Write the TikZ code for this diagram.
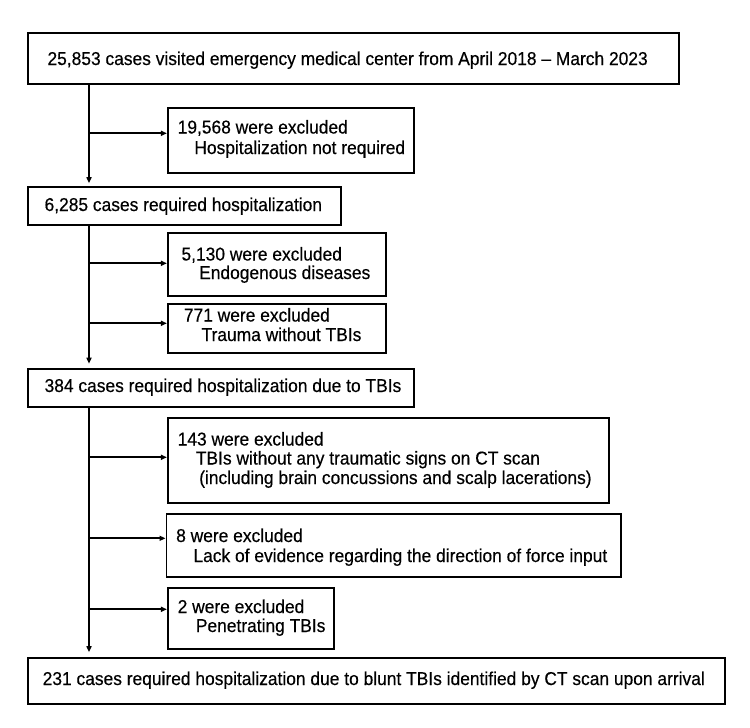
\documentclass[tikz,border=0pt]{standalone}
\usepackage{fontspec}
\setmainfont[FakeStretch=0.935,FakeBold=0.4]{Liberation Sans}
\usetikzlibrary{arrows.meta}
\tikzset{
  box/.style={draw, line width=1.9pt, rectangle, inner sep=0pt, anchor=north west},
  txt/.style={anchor=base west, inner sep=0pt, font=\fontsize{18.6pt}{20pt}\selectfont},
  flow/.style={line width=1.9pt, -{Triangle[length=6pt,width=5pt]}},
}
\begin{document}
\begin{tikzpicture}[x=1pt,y=-1pt]
\useasboundingbox (0,0) rectangle (750,728);
% boxes
\node[box, minimum width=651pt, minimum height=51.6pt] (b1) at (26.7,31.7) {};
\node[box, minimum width=246.1pt, minimum height=65pt] (e1) at (166.9,106.7) {};
\node[box, minimum width=313.5pt, minimum height=38.3pt] (b2) at (26.7,185.7) {};
\node[box, minimum width=217.9pt, minimum height=63pt] (e2) at (166.9,232) {};
\node[box, minimum width=217.9pt, minimum height=48.4pt] (e3) at (166.9,303.3) {};
\node[box, minimum width=386.3pt, minimum height=38pt] (b3) at (26.7,367.7) {};
\node[box, minimum width=441.4pt, minimum height=84.4pt] (e4) at (166.9,417.3) {};
\node[box, minimum width=454.8pt, minimum height=62.7pt] (e5) at (165.5,513.3) {};
\node[box, minimum width=166.2pt, minimum height=61.6pt] (e6) at (166.9,586.7) {};
\node[box, minimum width=697.3pt, minimum height=46.6pt] (b4) at (26.7,656.7) {};
% texts
\node[txt] (t1) at (47.3,65) {25,853 cases visited emergency medical center from April 2018 – March 2023};
\node[txt] (t2a) at (177.5,133.5) {19,568 were excluded};
\node[txt] (t2b) at (194.2,154) {Hospitalization not required};
\node[txt] (t3) at (44.4,211) {6,285 cases required hospitalization};
\node[txt] (t4a) at (181.3,260.5) {5,130 were excluded};
\node[txt] (t4b) at (199,279) {Endogenous diseases};
\node[txt] (t5a) at (183.7,321.5) {771 were excluded};
\node[txt] (t5b) at (201.4,341) {Trauma without TBIs};
\node[txt] (t6) at (44.4,392) {384 cases required hospitalization due to TBIs};
\node[txt] (t7a) at (177.5,445.5) {143 were excluded};
\node[txt] (t7b) at (195.7,464.5) {TBIs without any traumatic signs on CT scan};
\node[txt] (t7c) at (199,484) {(including brain concussions and scalp lacerations)};
\node[txt] (t8a) at (176,542) {8 were excluded};
\node[txt] (t8b) at (193.3,562) {Lack of evidence regarding the direction of force input};
\node[txt] (t9a) at (177.5,613) {2 were excluded};
\node[txt] (t9b) at (195.7,632) {Penetrating TBIs};
\node[txt] (t10) at (42.5,685) {231 cases required hospitalization due to blunt TBIs identified by CT scan upon arrival};
% main line
\coordinate (m) at (89,0);
\draw[flow, shorten >=2.5pt] (b1.south -| m) -- (b2.north -| m);
\draw[flow, shorten >=4pt] (b2.south -| m) -- (b3.north -| m);
\draw[flow, shorten >=4.5pt] (b3.south -| m) -- (b4.north -| m);
% branches
\coordinate (a1) at (89,133.3);
\coordinate (a2) at (89,263.3);
\coordinate (a3) at (89,323.3);
\coordinate (a4) at (89,457.3);
\coordinate (a5) at (89,538.3);
\coordinate (a6) at (89,609.3);
\draw[flow] (a1) -- (a1 -| e1.west);
\draw[flow] (a2) -- (a2 -| e2.west);
\draw[flow] (a3) -- (a3 -| e3.west);
\draw[flow] (a4) -- (a4 -| e4.west);
\draw[flow] (a5) -- (a5 -| e5.west);
\draw[flow] (a6) -- (a6 -| e6.west);
\end{tikzpicture}
\end{document}
